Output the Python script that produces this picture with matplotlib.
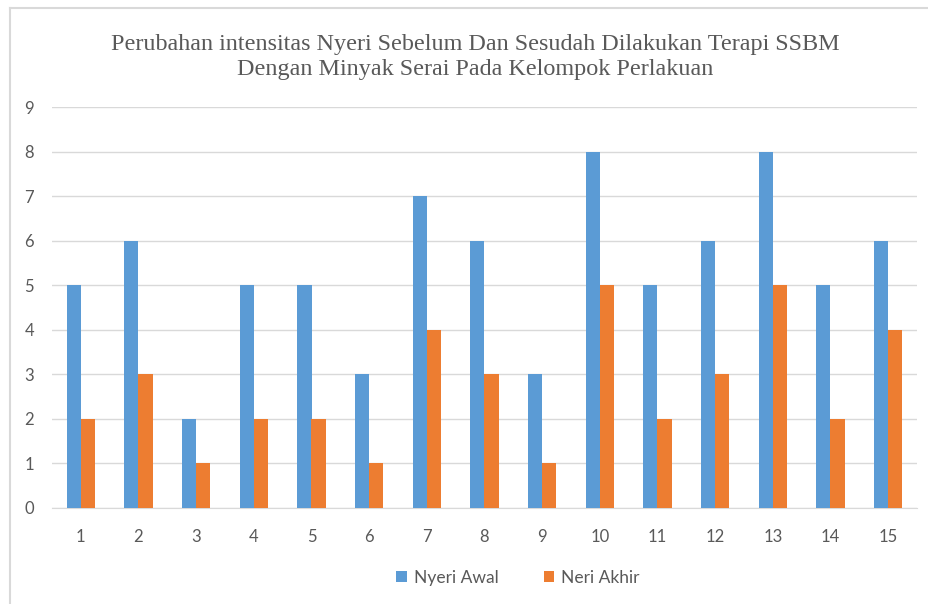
import numpy as np
import matplotlib
matplotlib.use('Agg')
import matplotlib.pyplot as plt
from matplotlib.lines import Line2D

kategori = [str(i) for i in range(1, 16)]
nyeri_awal = [5, 6, 2, 5, 5, 3, 7, 6, 3, 8, 5, 6, 8, 5, 6]
neri_akhir = [2, 3, 1, 2, 2, 1, 4, 3, 1, 5, 2, 3, 5, 2, 4]

W, H = 929, 604
fig = plt.figure(figsize=(W / 100, H / 100), dpi=100)

# bingkai grafik (hanya atas dan kiri yang terlihat)
fig.lines.append(Line2D([10 / W, 1], [1 - 8 / H, 1 - 8 / H], transform=fig.transFigure,
                        color='#d9d9d9', linewidth=1.5))
fig.lines.append(Line2D([10 / W, 10 / W], [0, 1 - 8 / H], transform=fig.transFigure,
                        color='#d9d9d9', linewidth=1.5))

ax = fig.add_axes([52 / W, 1 - 508 / H, (917 - 52) / W, (508 - 107) / H])

x = np.arange(1, 16)
lebar = 0.245
ax.bar(x - lebar / 2, nyeri_awal, lebar, color='#5b9bd5', label='Nyeri Awal', zorder=3)
ax.bar(x + lebar / 2, neri_akhir, lebar, color='#ed7d31', label='Neri Akhir', zorder=3)

ax.set_xlim(0.5, 15.5)
ax.set_ylim(0, 9)
ax.set_yticks(range(0, 10))
ax.set_xticks(x)
ax.set_xticklabels(kategori)
ax.grid(axis='y', color='#d9d9d9', linewidth=1, zorder=0)
for s in ['top', 'right', 'left']:
    ax.spines[s].set_visible(False)
ax.spines['bottom'].set_color('#d9d9d9')
ax.tick_params(length=0, labelsize=12, colors='#595959', labelfontfamily='Lato')
ax.tick_params(axis='x', pad=15)
ax.tick_params(axis='y', pad=13)

fig.text(475 / W, 1 - 57 / H,
         'Perubahan intensitas Nyeri Sebelum Dan Sesudah Dilakukan Terapi SSBM\nDengan Minyak Serai Pada Kelompok Perlakuan',
         ha='center', va='center', fontsize=17.4, family='Liberation Serif', color='#595959',
         linespacing=1.3)

leg = fig.legend(loc='center', bbox_to_anchor=(518 / W, 1 - 578 / H), ncol=2, frameon=False,
                 prop={'family': 'Lato', 'size': 12.5}, handlelength=0.6, handleheight=0.6,
                 columnspacing=2.6, handletextpad=0.4)
for t in leg.get_texts():
    t.set_color('#595959')

fig.savefig('out.png', dpi=100)
